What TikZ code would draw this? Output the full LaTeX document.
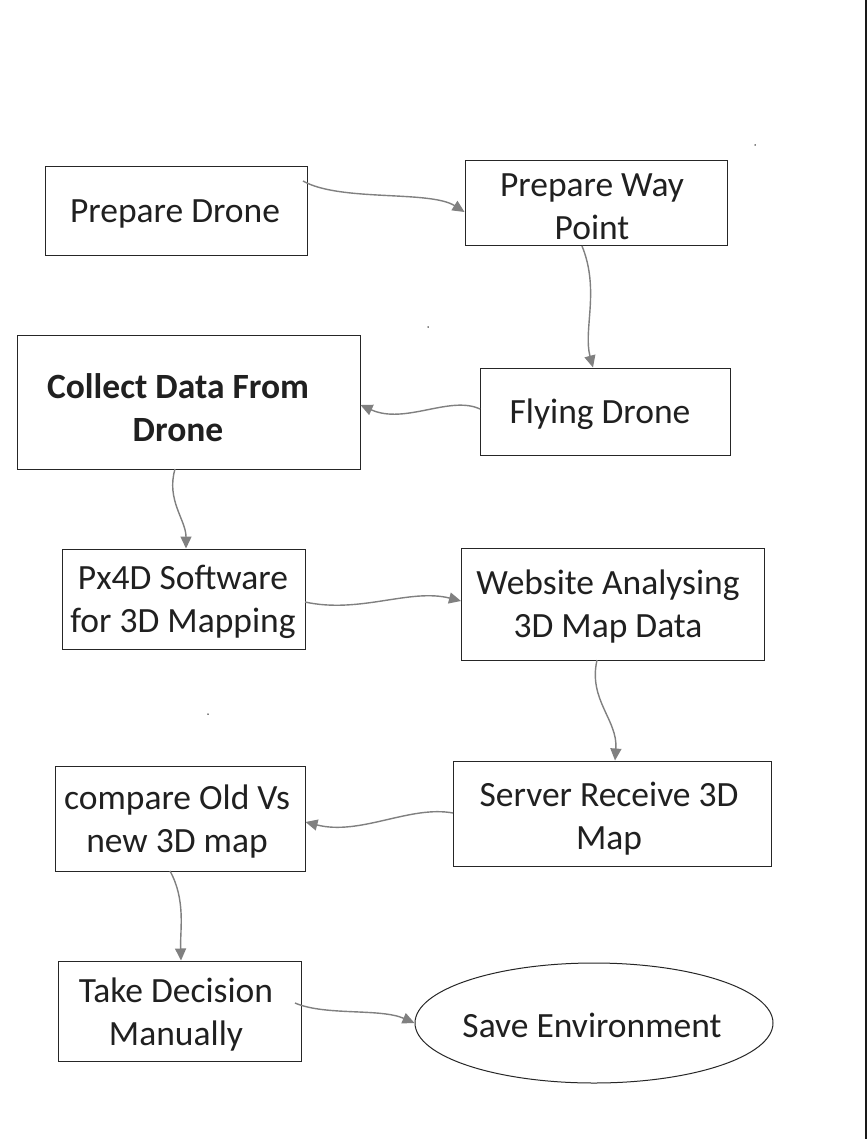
\documentclass[tikz,border=0pt]{standalone}
\usepackage{fontspec}
\setmainfont{Carlito}
\usetikzlibrary{arrows.meta,shapes.geometric}
\definecolor{txtc}{HTML}{202020}
\definecolor{arrc}{HTML}{808080}
\tikzset{
  box/.style={draw=black!85, line width=1pt, rectangle, minimum width=#1, inner sep=0pt},
  txt/.style={align=center, text=txtc, inner sep=0pt, yshift=-3pt, font=\fontsize{35.5}{43}\selectfont},
  conn/.style={draw=arrc, line width=1.4pt, -{Triangle[length=12pt,width=11pt]}},
  speck/.style={fill=black, circle, inner sep=0pt, minimum size=1.5pt}
}
\begin{document}
\begin{tikzpicture}[x=1pt,y=-1pt]
\useasboundingbox (0,0) rectangle (867,1139);
\fill[white] (0,0) rectangle (867,1139);
\draw[line width=2pt, black!90] (865.5,0) -- (865.5,1139);
% boxes
\node[box=262pt, minimum height=89pt] (b1) at (176,211.5) {};
\node[box=262pt, minimum height=85pt] (b2) at (596,203.5) {};
\node[box=250pt, minimum height=87pt] (b3) at (605,411.5) {};
\node[box=343pt, minimum height=134pt] (b4) at (188.5,402) {};
\node[box=243pt, minimum height=100pt] (b5) at (183.5,599) {};
\node[box=303pt, minimum height=112pt] (b6) at (612.5,604) {};
\node[box=318pt, minimum height=105pt] (b7) at (612,813.5) {};
\node[box=250pt, minimum height=105pt] (b8) at (180,818.5) {};
\node[box=243pt, minimum height=100pt] (b9) at (179.5,1011) {};
\node[draw=black!85, line width=1pt, ellipse, minimum width=358pt, minimum height=120pt, inner sep=0pt] (b10) at (594,1023) {};
% texts
\node[txt] (t1) at (175,211) {Prepare Drone};
\node[txt] (t2) at (592,204) {Prepare Way\\Point};
\node[txt] (t3) at (600,411) {Flying Drone};
\node[txt, font=\fontsize{35.5}{43}\selectfont\bfseries] (t4) at (178,404.5) {Collect Data From\\Drone};
\node[txt] (t5) at (183,599) {Px4D Software\\for 3D Mapping};
\node[txt] (t6) at (608,604) {Website Analysing\\3D Map Data};
\node[txt] (t7) at (609,815.5) {Server Receive 3D\\Map};
\node[txt] (t8) at (177,819) {compare Old Vs\\new 3D map};
\node[txt] (t9) at (176,1011.5) {Take Decision\\Manually};
\node[txt] (t10) at (592,1022) {Save Environment};
% connector anchor points
\coordinate (a1s) at (303,181);
\coordinate (b3s) at (480,409);
\coordinate (b6s) at (461,601);
\coordinate (b7s) at (453,813);
\coordinate (b9s) at (295,1003);
% connectors
\draw[conn] (a1s) .. controls (340,202) and (430,190) .. (b2.west |- 0,212);
\draw[conn] (582,246) .. controls (600,290) and (583,330) .. (b3.north -| 593,0);
\draw[conn] (b3s) .. controls (450,395) and (405,425) .. (b4.east |- 0,405);
\draw[conn] (175,469) .. controls (166,500) and (186,520) .. (b5.north -| 186,0);
\draw[conn] (305,602) .. controls (360,614) and (410,588) .. (b6s);
\draw[conn] (597,660) .. controls (588,700) and (618,720) .. (b7.north -| 615,0);
\draw[conn] (b7s) .. controls (410,805) and (360,836) .. (b8.east |- 0,822);
\draw[conn] (170,871) .. controls (186,900) and (180,930) .. (b9.north -| 181,0);
\draw[conn] (b9s) .. controls (325,1016) and (380,1008) .. (b10.west);
% specks
\node[speck] (s1) at (755,145) {};
\node[speck] (s2) at (428,327) {};
\node[speck] (s3) at (208,714) {};
\end{tikzpicture}
\end{document}
